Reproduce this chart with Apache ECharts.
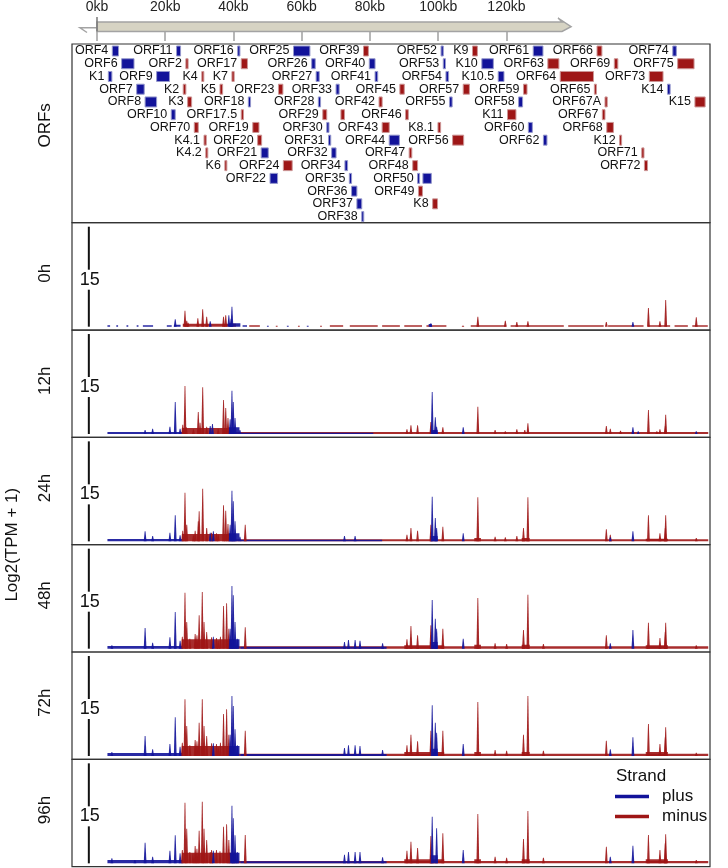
<!DOCTYPE html>
<html>
<head>
<meta charset="utf-8">
<script src="https://cdn.jsdelivr.net/npm/echarts@6/dist/echarts.min.js"></script>
<style>
  html, body { margin: 0; padding: 0; background: #fff; }
  #chart { width: 728px; height: 868px; }
</style>
</head>
<body>
<div id="chart"></div>
<script>
const BLUE = '#12139a'
const RED = '#9e1616'
const FONT = 'Liberation Sans, Arial, Helvetica, sans-serif'

// genome ruler (kb)
const rulerMax = 138
const genomeEnd = 136.3

// ORFs: name, start kb, end kb, row, strand
const orfs = [
  ['ORF4', 1.1, 2.5, 0, '+'], ['ORF11', 15.6, 16.5, 0, '+'], ['ORF16', 29.4, 29.9, 0, '+'], ['ORF25', 42.0, 45.7, 0, '+'], ['ORF39', 57.8, 58.9, 0, '-'],
  ['ORF52', 75.3, 75.8, 0, '+'], ['K9', 82.4, 83.5, 0, '-'], ['ORF61', 96.1, 98.3, 0, '+'], ['ORF66', 110.5, 111.6, 0, '-'], ['ORF74', 127.6, 128.4, 0, '+'],
  ['ORF6', 3.2, 6.0, 1, '+'], ['ORF2', 17.7, 18.2, 1, '-'], ['ORF17', 30.2, 31.6, 1, '-'], ['ORF26', 46.1, 46.9, 1, '+'], ['ORF40', 59.1, 60.4, 1, '+'],
  ['ORF53', 75.8, 76.3, 1, '+'], ['K10', 84.5, 87.1, 1, '+'], ['ORF63', 99.4, 101.9, 1, '-'], ['ORF69', 114.4, 115.2, 1, '-'], ['ORF75', 128.7, 132.4, 1, '-'],
  ['K1', 0.2, 1.0, 2, '+'], ['ORF9', 11.1, 14.0, 2, '+'], ['K4', 21.3, 21.6, 2, '-'], ['K7', 28.1, 28.6, 2, '-'], ['ORF27', 47.1, 47.8, 2, '+'],
  ['ORF41', 60.4, 61.0, 2, '+'], ['ORF54', 76.4, 77.0, 2, '+'], ['K10.5', 88.2, 89.5, 2, '+'], ['ORF64', 102.2, 109.7, 2, '-'], ['ORF73', 122.3, 125.4, 2, '-'],
  ['ORF7', 6.6, 8.3, 3, '+'], ['K2', 17.1, 17.7, 3, '-'], ['K5', 25.4, 26.0, 3, '-'], ['ORF23', 38.6, 39.6, 3, '-'], ['ORF33', 51.6, 52.3, 3, '+'],
  ['ORF45', 66.0, 67.0, 3, '-'], ['ORF57', 80.3, 81.7, 3, '-'], ['ORF59', 93.9, 94.7, 3, '-'], ['ORF65', 109.9, 110.3, 3, '-'], ['K14', 126.4, 127.0, 3, '+'],
  ['ORF8', 8.5, 11.1, 4, '+'], ['K3', 18.1, 19.0, 4, '-'], ['ORF18', 31.8, 32.3, 4, '+'], ['ORF28', 47.6, 48.1, 4, '+'], ['ORF42', 61.3, 62.0, 4, '-'],
  ['ORF55', 77.2, 77.8, 4, '+'], ['ORF58', 92.8, 93.7, 4, '+'], ['ORF67A', 112.3, 112.8, 4, '-'], ['K15', 132.6, 134.9, 4, '-'],
  ['ORF10', 14.4, 15.3, 5, '+'], ['ORF17.5', 30.2, 30.7, 5, '-'], ['ORF29', 48.6, 49.5, 5, '-'], ['', 52.7, 53.5, 5, '-'], ['ORF46', 67.3, 67.9, 5, '-'],
  ['K11', 90.3, 92.2, 5, '-'], ['ORF67', 111.7, 112.3, 5, '-'],
  ['ORF70', 19.6, 20.5, 6, '-'], ['ORF19', 32.8, 34.2, 6, '-'], ['ORF30', 49.5, 50.0, 6, '+'], ['ORF43', 62.0, 63.6, 6, '-'], ['K8.1', 74.6, 75.2, 6, '-'],
  ['ORF60', 95.0, 95.9, 6, '+'], ['ORF68', 112.7, 114.2, 6, '-'],
  ['K4.1', 21.8, 22.3, 7, '-'], ['ORF20', 33.9, 34.8, 7, '-'], ['ORF31', 49.9, 50.4, 7, '+'], ['ORF44', 63.6, 65.9, 7, '+'], ['ORF56', 77.9, 80.4, 7, '-'],
  ['ORF62', 98.4, 99.2, 7, '+'], ['K12', 115.6, 116.0, 7, '-'],
  ['K4.2', 22.2, 22.6, 8, '-'], ['ORF21', 34.7, 36.3, 8, '+'], ['ORF32', 50.6, 51.6, 8, '+'], ['ORF47', 68.1, 68.7, 8, '-'], ['ORF71', 120.6, 121.1, 8, '-'],
  ['K6', 26.5, 26.9, 9, '-'], ['ORF24', 39.7, 41.7, 9, '-'], ['ORF34', 53.6, 54.2, 9, '+'], ['ORF48', 68.9, 70.0, 9, '-'], ['ORF72', 121.2, 121.9, 9, '-'],
  ['ORF22', 36.7, 38.4, 10, '+'], ['ORF35', 54.6, 55.1, 10, '+'], ['ORF50', 70.0, 70.4, 10, '+'], ['', 71.2, 73.1, 10, '+'],
  ['ORF36', 55.1, 56.3, 11, '+'], ['ORF49', 70.2, 71.1, 11, '-'],
  ['ORF37', 56.3, 57.4, 12, '+'], ['K8', 73.4, 74.5, 12, '-'],
  ['ORF38', 57.4, 57.8, 13, '+']
]

const timePoints = ['0h', '12h', '24h', '48h', '72h', '96h']
const scaleValue = 15
const scaleBarKb = -4.2

// peaks: [kb, log2(TPM+1)]
const plus0h = [[15.3, 1.1], [23.2, 0.8], [27.4, 1.7], [27.9, 1.2], [28.1, 3.0], [73.0, 0.5], [118.6, 0.7]]
const minus0h = [[17.5, 2.4], [17.9, 0.9], [18.2, 0.6], [20.4, 1.25], [21.5, 2.6], [22.4, 1.5], [26.2, 1.5], [26.7, 1.7],
  [83.6, 1.5], [89.8, 0.9], [92.4, 0.7], [94.9, 0.8], [112.6, 0.7], [122.1, 2.8], [124.7, 0.8], [126.0, 4.0], [132.9, 1.4]]

const plus12h = [[8.5, 0.6], [10.2, 0.8], [14.1, 1.1], [15.3, 4.8], [16.4, 0.8], [23.2, 1.2], [23.7, 1.5], [27.7, 2.2], [28.1, 6.5],
  [28.4, 4.8], [28.8, 2.4], [29.9, 0.6], [73.3, 6.3], [74.0, 2.5], [74.3, 1.1], [80.3, 1.0], [118.6, 1.0], [119.8, 0.4], [132.9, 0.4]]
const minus12h = [[17.0, 1.4], [17.5, 7.2], [17.8, 1.0], [19.4, 0.7], [20.5, 3.3], [20.9, 1.7], [21.5, 7.0], [22.4, 1.1], [25.0, 0.8],
  [26.2, 5.1], [26.7, 3.9], [27.2, 2.4], [67.6, 0.7], [68.5, 1.3], [70.0, 1.3], [73.0, 1.8], [75.7, 1.0], [83.6, 4.1], [87.5, 0.6],
  [89.8, 0.4], [92.4, 0.7], [94.2, 0.6], [94.9, 1.6], [112.6, 1.2], [113.5, 0.8], [115.8, 0.5], [122.1, 3.6], [124.0, 0.4], [124.7, 0.7],
  [125.9, 1.2], [126.0, 2.9]]

const plus24h = [[8.5, 1.5], [10.2, 0.8], [14.1, 1.3], [15.3, 3.9], [16.4, 0.9], [23.2, 1.3], [23.9, 1.5], [27.7, 2.5], [28.1, 7.6],
  [28.4, 6.0], [28.8, 3.0], [29.9, 0.7], [53.5, 0.8], [55.9, 0.8], [73.3, 6.7], [74.0, 3.5], [74.3, 2.0], [80.3, 1.2], [113.5, 0.6], [118.6, 1.5]]
const minus24h = [[17.0, 1.6], [17.5, 7.3], [17.9, 2.5], [19.4, 0.9], [19.8, 1.6], [20.5, 3.0], [20.7, 4.5], [21.5, 7.9], [22.4, 2.0],
  [23.5, 1.3], [24.6, 1.2], [25.0, 1.0], [26.2, 5.4], [26.7, 4.6], [27.2, 2.6], [31.1, 2.5], [67.6, 1.0], [68.5, 2.0], [70.0, 1.6],
  [73.0, 2.5], [75.7, 2.2], [83.6, 6.6], [87.5, 0.7], [89.8, 0.6], [92.4, 0.8], [93.9, 2.0], [94.9, 6.6], [112.6, 1.8], [113.5, 1.0],
  [122.1, 3.9], [124.7, 1.2], [125.9, 2.0], [126.0, 3.9], [132.9, 0.5]]

const plus48h = [[1.0, 0.5], [8.5, 3.1], [10.2, 0.9], [14.1, 1.7], [15.3, 5.5], [16.4, 1.2], [23.9, 1.8], [27.7, 3.0], [28.1, 9.4],
  [28.4, 8.0], [28.8, 4.0], [29.3, 1.5], [53.5, 1.0], [54.4, 1.3], [55.9, 1.3], [57.0, 1.2], [62.1, 0.8], [73.3, 7.3], [74.0, 4.5],
  [74.3, 3.0], [80.3, 1.5], [113.5, 0.8], [118.6, 2.8]]
const minus48h = [[16.9, 1.8], [17.5, 8.4], [17.9, 4.0], [18.6, 1.5], [19.8, 2.2], [20.2, 2.0], [20.7, 5.0], [21.4, 8.5], [21.8, 4.0],
  [22.4, 2.5], [23.5, 1.7], [24.6, 1.6], [25.0, 1.2], [25.5, 1.8], [26.2, 6.4], [26.9, 6.8], [27.4, 3.0], [31.1, 3.2], [67.6, 1.4],
  [68.5, 3.4], [70.0, 2.0], [73.0, 3.5], [75.7, 3.0], [83.6, 7.6], [87.5, 0.8], [90.1, 0.7], [93.9, 2.8], [94.9, 8.1], [98.4, 0.7],
  [112.6, 2.0], [122.1, 3.9], [124.7, 1.6], [125.9, 2.5], [126.0, 3.9], [132.9, 0.5]]

const plus72h = [[1.0, 0.6], [8.5, 3.0], [10.2, 1.0], [14.1, 1.8], [15.3, 5.8], [16.4, 1.4], [23.9, 1.9], [27.7, 3.2], [28.1, 9.0],
  [28.4, 7.5], [28.8, 4.0], [29.3, 1.6], [53.5, 1.2], [54.4, 1.6], [55.9, 1.6], [57.0, 1.5], [62.1, 0.9], [73.3, 7.6], [74.0, 5.0],
  [74.3, 3.5], [80.3, 1.8], [113.5, 1.0], [118.6, 2.8]]
const minus72h = [[16.9, 2.0], [17.5, 8.5], [17.9, 4.5], [18.6, 1.6], [19.8, 2.4], [20.2, 2.2], [20.7, 5.0], [21.4, 8.5], [21.8, 4.5],
  [22.4, 3.0], [23.5, 1.9], [24.6, 1.8], [25.0, 1.3], [25.5, 2.0], [26.2, 6.3], [26.9, 7.0], [27.4, 3.2], [31.1, 3.8], [67.6, 1.6],
  [68.5, 3.2], [70.0, 2.2], [73.0, 3.8], [75.7, 3.8], [83.6, 8.1], [87.5, 0.9], [90.1, 0.8], [93.9, 3.2], [94.9, 9.0], [98.4, 0.8],
  [112.6, 2.3], [122.1, 4.8], [124.7, 1.8], [125.9, 2.8], [126.0, 4.3], [132.9, 0.5]]

const plus96h = [[1.0, 0.75], [6.2, 0.5], [8.5, 3.1], [10.2, 1.0], [14.1, 1.9], [15.3, 4.2], [16.4, 1.5], [23.9, 1.9], [28.1, 8.65],
  [28.4, 6.75], [28.8, 4.2], [29.3, 1.7], [53.5, 1.3], [54.4, 1.7], [55.9, 1.7], [57.0, 1.7], [62.1, 0.9], [73.3, 7.0], [74.3, 5.25],
  [80.3, 2.0], [113.5, 1.0], [118.6, 2.65]]
const minus96h = [[16.9, 2.0], [17.5, 9.1], [17.9, 5.2], [18.6, 1.7], [19.3, 1.5], [19.8, 2.6], [20.2, 2.2], [20.7, 4.9], [21.4, 9.25],
  [21.8, 5.2], [22.4, 3.5], [23.2, 1.7], [23.5, 2.0], [24.6, 2.0], [25.4, 1.8], [26.2, 5.5], [26.9, 5.85], [27.4, 3.5], [31.1, 4.25],
  [67.6, 1.9], [68.5, 3.25], [70.0, 2.3], [73.0, 4.1], [75.7, 4.5], [83.6, 7.4], [87.5, 1.0], [90.1, 0.85], [93.9, 3.65], [94.9, 7.85],
  [98.4, 0.85], [112.6, 2.5], [122.1, 4.25], [124.7, 2.0], [125.9, 3.0], [126.0, 4.35], [132.9, 0.5]]

// low background coverage: [from kb, to kb, level]
const plusBase0h = [[0, 0.6, 0.2], [2, 2.4, 0.2], [4.3, 4.7, 0.2], [6.6, 7, 0.2], [8, 10.3, 0.2], [13.4, 14.5, 0.2], [15, 16.5, 0.3],
  [27.5, 30, 0.5], [30.5, 31.5, 0.2], [36, 36.4, 0.15], [40.5, 40.9, 0.15], [45, 45.4, 0.15], [72.5, 73.2, 0.4]]
const minusBase0h = [[17, 29, 0.45], [32, 34.4, 0.2], [38, 38.4, 0.15], [43, 43.4, 0.15], [48, 48.4, 0.15], [50.2, 53.2, 0.2],
  [54.7, 61, 0.2], [62, 66, 0.2], [67, 71, 0.2], [72, 76.5, 0.2], [80, 80.5, 0.15], [82, 90, 0.2], [91, 103, 0.2], [104, 112, 0.2],
  [113, 121, 0.2], [122, 127, 0.2], [128, 131, 0.2], [132, 135.5, 0.2]]
const plusBase12h = [[0, 17, 0.3], [27.3, 29.8, 1.0], [30, 60, 0.2], [72.8, 74.5, 0.6]]
const minusBase12h = [[16.8, 28, 0.9], [28, 135.6, 0.3]]
const plusBase24h = [[0, 17, 0.35], [27.3, 29.8, 1.2], [30, 62, 0.25], [72.8, 74.5, 0.8]]
const minusBase24h = [[16.8, 28, 1.1], [28, 135.6, 0.3], [82.8, 84.3, 0.5], [93.5, 95.3, 0.5], [121.5, 126.5, 0.4]]
const plusBase48h = [[0, 17, 0.4], [27.3, 29.8, 1.4], [30, 63, 0.3], [72.8, 74.5, 1.0]]
const minusBase48h = [[16.8, 28.5, 1.4], [28.5, 135.6, 0.35], [67, 76, 0.5], [82.8, 84.3, 0.6], [93.5, 95.3, 0.6], [121.5, 126.5, 0.5]]
const plusBase72h = [[0, 17, 0.45], [27.3, 29.8, 1.5], [30, 63, 0.3], [72.8, 74.5, 1.1]]
const minusBase72h = [[16.8, 28.5, 1.5], [28.5, 135.6, 0.35], [67, 76, 0.6], [82.8, 84.3, 0.6], [93.5, 95.3, 0.6], [121.5, 126.5, 0.6]]
const plusBase96h = [[0, 17, 0.5], [27.3, 29.8, 1.6], [30, 63, 0.3], [72.8, 74.5, 1.2]]
const minusBase96h = [[16.8, 29, 1.6], [29, 135.6, 0.35], [67, 76, 0.6], [82.8, 84.3, 0.6], [93.5, 95.3, 0.6], [121.5, 126.5, 0.6]]

const plusPeaks = [plus0h, plus12h, plus24h, plus48h, plus72h, plus96h]
const minusPeaks = [minus0h, minus12h, minus24h, minus48h, minus72h, minus96h]
const plusBase = [plusBase0h, plusBase12h, plusBase24h, plusBase48h, plusBase72h, plusBase96h]
const minusBase = [minusBase0h, minusBase12h, minusBase24h, minusBase48h, minusBase72h, minusBase96h]

// layout
const panelLeft = 72
const panelRight = 18
const orfTop = 44
const orfH = 178.7
const trackTop = 222.7
const trackH = 107.33
const xMin = -8
const xMax = 136

function peakShape(params, api) {
  const x = api.value(0), h = api.value(1)
  const top = api.coord([x, h])
  const bot = api.coord([x, 0])
  return {
    type: 'polygon',
    shape: { points: [[bot[0] - 1.4, bot[1]], [top[0] - 0.4, top[1]], [top[0] + 0.4, top[1]], [bot[0] + 1.4, bot[1]]] },
    style: { fill: api.visual('color'), opacity: 0.92 }
  }
}

function floorShape(params, api) {
  const a = api.coord([api.value(0), api.value(2)])
  const b = api.coord([api.value(1), 0])
  return {
    type: 'rect',
    shape: { x: a[0], y: a[1], width: Math.max(b[0] - a[0], 1), height: b[1] - a[1] },
    style: { fill: api.visual('color'), opacity: 0.9 }
  }
}

function orfShape(params, api) {
  const d = orfs[params.dataIndex]
  const a = api.coord([d[1], d[3]])
  const b = api.coord([d[2], d[3]])
  const plus = d[4] === '+'
  const children = [{
    type: 'rect',
    shape: { x: a[0], y: a[1] - 5, width: Math.max(b[0] - a[0], 2), height: 10 },
    style: { fill: plus ? BLUE : RED, stroke: plus ? '#9598cc' : '#cc9696', lineWidth: 1 }
  }]
  if (d[0]) {
    children.push({
      type: 'text', x: a[0] - 4, y: a[1],
      style: { text: d[0], fill: '#111', fontSize: 12.5, fontFamily: FONT, align: 'right', verticalAlign: 'middle' }
    })
  }
  return { type: 'group', children: children }
}

function scaleShape(params, api) {
  const x = api.value(0), v = api.value(1)
  const p0 = api.coord([x, 0])
  const p1 = api.coord([x, v])
  const pm = api.coord([x, v * 0.47])
  return {
    type: 'group',
    children: [
      { type: 'line', shape: { x1: p0[0], y1: p0[1], x2: p0[0], y2: pm[1] + 10 }, style: { stroke: '#111', lineWidth: 2 } },
      { type: 'line', shape: { x1: p0[0], y1: pm[1] - 10, x2: p0[0], y2: p1[1] }, style: { stroke: '#111', lineWidth: 2 } },
      { type: 'text', x: p0[0] + 1, y: pm[1], style: { text: String(v), fill: '#111', fontSize: 18, fontFamily: FONT, align: 'center', verticalAlign: 'middle' } }
    ]
  }
}

function rulerShape(params, api) {
  const cs = params.coordSys
  const x0 = api.coord([0, 0])[0]
  const xe = api.coord([api.value(0), 0])[0]
  const top = cs.y + 5, bot = cs.y + 14.5, mid = (top + bot) / 2
  return {
    type: 'group',
    children: [
      { type: 'polygon', shape: { points: [[x0, top], [xe, top], [xe - 4, top - 4], [xe + 9, mid], [xe, bot], [x0, bot]] },
        style: { fill: '#d6d3c3', stroke: '#a3a3a3', lineWidth: 1.5 } },
      { type: 'polyline', shape: { points: [[x0, mid + 1], [x0 - 17, mid + 1], [x0 - 10, bot + 1]] },
        style: { stroke: '#a3a3a3', fill: null, lineWidth: 1.5 } },
      { type: 'line', shape: { x1: x0, y1: top - 5, x2: x0, y2: bot }, style: { stroke: '#777', lineWidth: 1.5 } }
    ]
  }
}

const grids = []
const xAxes = []
const yAxes = []
const series = []
const graphics = []

// ruler
grids.push({ left: 97, top: 17, width: rulerMax * 3.412, height: 15 })
xAxes.push({
  gridIndex: 0, type: 'value', min: 0, max: rulerMax, interval: 20, position: 'top',
  axisLine: { show: false }, splitLine: { show: false },
  axisTick: { inside: true, length: 9, lineStyle: { color: '#a0a0a0', width: 1.5 } },
  axisLabel: { formatter: '{value}kb', fontSize: 14, color: '#222', fontFamily: FONT, margin: 3, showMaxLabel: false }
})
yAxes.push({ gridIndex: 0, type: 'value', min: 0, max: 1, show: false })
series.push({ type: 'custom', name: 'ruler', xAxisIndex: 0, yAxisIndex: 0, data: [[genomeEnd, 0]], renderItem: rulerShape, clip: false, silent: true, z: 1 })

// ORF panel
grids.push({ left: panelLeft, right: panelRight, top: orfTop, height: orfH, show: true, borderColor: '#333', borderWidth: 1.2 })
xAxes.push({ gridIndex: 1, type: 'value', min: xMin, max: xMax, show: false })
yAxes.push({ gridIndex: 1, type: 'value', inverse: true, min: -0.55, max: 13.48, show: false })
series.push({
  type: 'custom', name: 'ORFs', xAxisIndex: 1, yAxisIndex: 1, silent: true,
  data: orfs.map(o => [o[1], o[2], o[3]]), encode: { x: [0, 1], y: 2 }, renderItem: orfShape
})
graphics.push({ type: 'text', x: 45, y: orfTop + orfH / 2 - 8, rotation: Math.PI / 2,
  style: { text: 'ORFs', fontSize: 17, fontFamily: FONT, fill: '#111', align: 'center', verticalAlign: 'middle' } })

// tracks
timePoints.forEach((tp, i) => {
  const g = i + 2
  const top = trackTop + i * trackH
  grids.push({ left: panelLeft, right: panelRight, top: top, height: trackH, show: true, borderColor: '#333', borderWidth: 1.2 })
  xAxes.push({ gridIndex: g, type: 'value', min: xMin, max: xMax, show: false })
  yAxes.push({ gridIndex: g, type: 'value', min: -0.5, max: 15.6, show: false })
  const common = { type: 'custom', xAxisIndex: g, yAxisIndex: g, silent: true, clip: true }
  series.push(Object.assign({}, common, { name: 'minus', itemStyle: { color: RED }, data: minusBase[i], encode: { x: [0, 1], y: 2 }, renderItem: floorShape, z: 1 }))
  series.push(Object.assign({}, common, { name: 'plus', itemStyle: { color: BLUE }, data: plusBase[i], encode: { x: [0, 1], y: 2 }, renderItem: floorShape, z: 2 }))
  series.push(Object.assign({}, common, { name: 'minus', itemStyle: { color: RED }, data: minusPeaks[i], encode: { x: 0, y: 1 }, renderItem: peakShape, z: 3 }))
  series.push(Object.assign({}, common, { name: 'plus', itemStyle: { color: BLUE }, data: plusPeaks[i], encode: { x: 0, y: 1 }, renderItem: peakShape, z: 4 }))
  series.push({ type: 'custom', name: 'scale', xAxisIndex: g, yAxisIndex: g, silent: true, clip: false,
    data: [[scaleBarKb, scaleValue]], encode: { x: 0, y: 1 }, renderItem: scaleShape, z: 5 })
  graphics.push({ type: 'text', x: 45, y: top + trackH / 2 - 3, rotation: Math.PI / 2,
    style: { text: tp, fontSize: 17, fontFamily: FONT, fill: '#111', align: 'center', verticalAlign: 'middle' } })
})

graphics.push({ type: 'text', x: 12, y: trackTop + 3 * trackH, rotation: Math.PI / 2,
  style: { text: 'Log2(TPM + 1)', fontSize: 17, fontFamily: FONT, fill: '#111', align: 'center', verticalAlign: 'middle' } })

const chart = echarts.init(document.getElementById('chart'), null, { renderer: 'canvas' })
chart.setOption({
  animation: false,
  backgroundColor: '#fff',
  textStyle: { fontFamily: FONT },
  title: { text: 'Strand', left: 611, top: 763, textStyle: { fontSize: 17, fontWeight: 'normal', color: '#111', fontFamily: FONT } },
  legend: {
    data: ['plus', 'minus'], orient: 'vertical', left: 610, top: 783, icon: 'rect', itemWidth: 34, itemHeight: 3.5, itemGap: 3,
    selectedMode: false, textStyle: { fontSize: 17, color: '#111', fontFamily: FONT, padding: [0, 0, 0, 8] }
  },
  grid: grids,
  xAxis: xAxes,
  yAxis: yAxes,
  graphic: graphics,
  series: series
})
</script>
</body>
</html>
